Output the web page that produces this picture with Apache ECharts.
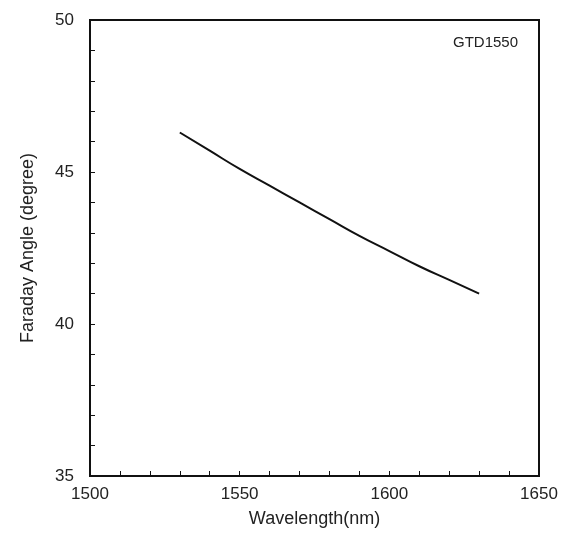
<!DOCTYPE html>
<html>
<head>
<meta charset="utf-8">
<script src="https://cdn.jsdelivr.net/npm/echarts@6/dist/echarts.min.js"></script>
<style>
  html, body { margin: 0; padding: 0; background: #fff; }
  #chart { width: 565px; height: 553px; }
</style>
</head>
<body>
<div id="chart"></div>
<script>
// Faraday rotation angle of the GTD1550 garnet across the wavelength band
const wavelengths = [1530, 1540, 1550, 1560, 1570, 1580, 1590, 1600, 1610, 1620, 1630];
const faradayAngle = [46.3, 45.7, 45.1, 44.55, 44.0, 43.45, 42.9, 42.4, 41.9, 41.45, 41.0];
const xTicks = [1500, 1550, 1600, 1650];
const yTicks = [35, 40, 45, 50];
const materialLabel = 'GTD1550';

const chart = echarts.init(document.getElementById('chart'));
const font = '"Liberation Sans", Arial, sans-serif';
const ink = '#111';

chart.setOption({
  backgroundColor: '#fff',
  animation: false,
  grid: {
    left: 90, right: 26, top: 20, bottom: 77,
    show: true, borderColor: ink, borderWidth: 2
  },
  graphic: [{
    type: 'text',
    left: 453, top: 35,
    style: { text: materialLabel, font: '15px ' + font, fill: '#222' }
  }],
  xAxis: {
    type: 'value',
    min: xTicks[0], max: xTicks[xTicks.length - 1], interval: 50,
    name: 'Wavelength(nm)', nameLocation: 'middle', nameGap: 34,
    nameMoveOverlap: false,
    nameTextStyle: { fontFamily: font, fontSize: 18, color: '#222' },
    axisLine: { lineStyle: { color: ink, width: 2 } },
    axisTick: { inside: true, length: 5, lineStyle: { color: ink, width: 1 } },
    minorTick: { show: true, splitNumber: 5, length: 5, lineStyle: { color: ink, width: 1 } },
    axisLabel: { fontFamily: font, fontSize: 17, color: '#222', margin: 10, formatter: v => String(v) },
    splitLine: { show: false }
  },
  yAxis: {
    type: 'value',
    min: yTicks[0], max: yTicks[yTicks.length - 1], interval: 5,
    name: 'Faraday Angle (degree)', nameLocation: 'middle', nameGap: 53,
    nameMoveOverlap: false,
    nameTextStyle: { fontFamily: font, fontSize: 18, color: '#222' },
    axisLine: { lineStyle: { color: ink, width: 2 } },
    axisTick: { inside: true, length: 5, lineStyle: { color: ink, width: 1 } },
    minorTick: { show: true, splitNumber: 5, length: 5, lineStyle: { color: ink, width: 1 } },
    axisLabel: { fontFamily: font, fontSize: 17, color: '#222', margin: 16, formatter: v => String(v) },
    splitLine: { show: false }
  },
  series: [{
    type: 'line',
    data: wavelengths.map((w, i) => [w, faradayAngle[i]]),
    smooth: true,
    showSymbol: false,
    lineStyle: { color: ink, width: 2 }
  }]
});
</script>
</body>
</html>
